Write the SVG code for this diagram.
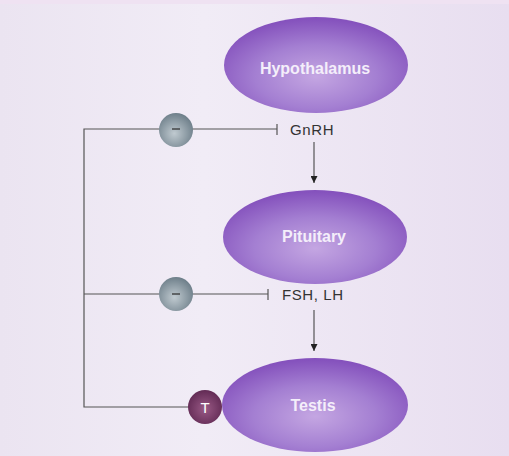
<svg xmlns="http://www.w3.org/2000/svg" width="509" height="456" viewBox="0 0 509 456">
<defs>
<linearGradient id="bg" x1="0" y1="0" x2="1" y2="0">
<stop offset="0" stop-color="#ebe4f1"/>
<stop offset="0.4" stop-color="#f1ecf6"/>
<stop offset="1" stop-color="#e8def0"/>
</linearGradient>
<radialGradient id="ell" cx="0.5" cy="0.62" r="0.6">
<stop offset="0" stop-color="#c4a6e2"/>
<stop offset="0.55" stop-color="#a47fd2"/>
<stop offset="1" stop-color="#8552bd"/>
</radialGradient>
<radialGradient id="gray" cx="0.45" cy="0.6" r="0.6">
<stop offset="0" stop-color="#c0cad0"/>
<stop offset="1" stop-color="#6e7f8a"/>
</radialGradient>
<radialGradient id="tc" cx="0.5" cy="0.55" r="0.6">
<stop offset="0" stop-color="#9a5a86"/>
<stop offset="1" stop-color="#5d2650"/>
</radialGradient>
<marker id="arr" viewBox="0 0 10 10" refX="10" refY="5" markerWidth="7" markerHeight="7" orient="auto" markerUnits="userSpaceOnUse">
<path d="M0,0 L10,5 L0,10 z" fill="#222"/>
</marker>
</defs>
<style>
.ln{stroke:#555;stroke-width:1.2;fill:none}
.lbl{font-family:"Liberation Sans",Arial,sans-serif;font-size:16px;fill:#f4eefa;font-weight:bold;text-anchor:middle}
.hl{font-family:"Liberation Sans",Arial,sans-serif;font-size:15px;fill:#333;letter-spacing:0.6px}
.ell{fill:url(#ell)}
</style>
<rect width="509" height="456" fill="url(#bg)"/>
<rect width="509" height="4" fill="#efe2f2"/>
<g id="connectors">
<path class="ln" d="M277,129 H84 V407 H190"/>
<path class="ln" d="M84,294 H268"/>
<line class="ln" x1="277" y1="124" x2="277" y2="135"/>
<line class="ln" x1="268" y1="289" x2="268" y2="300"/>
<line class="ln" x1="314" y1="142" x2="314" y2="183" marker-end="url(#arr)"/>
<line class="ln" x1="314" y1="310" x2="314" y2="351" marker-end="url(#arr)"/>
</g>
<g id="hypothalamus">
<ellipse class="ell" cx="316" cy="65" rx="92" ry="48"/>
<text class="lbl" x="315" y="74">Hypothalamus</text>
</g>
<g id="pituitary">
<ellipse class="ell" cx="315" cy="237" rx="92" ry="47"/>
<text class="lbl" x="314" y="242">Pituitary</text>
</g>
<g id="testis">
<ellipse class="ell" cx="315" cy="405" rx="93" ry="47"/>
<text class="lbl" x="313" y="411">Testis</text>
</g>
<g id="gnrh">
<text class="hl" x="290" y="135">GnRH</text>
</g>
<g id="fshlh">
<text class="hl" x="282" y="300">FSH, LH</text>
</g>
<g id="inhibit1">
<circle cx="176" cy="130" r="17" fill="url(#gray)"/>
<line x1="172" y1="129" x2="180" y2="129" stroke="#333" stroke-width="1.3"/>
</g>
<g id="inhibit2">
<circle cx="176" cy="294" r="17" fill="url(#gray)"/>
<line x1="172" y1="294" x2="180" y2="294" stroke="#333" stroke-width="1.3"/>
</g>
<g id="t">
<circle cx="205" cy="407" r="17" fill="url(#tc)"/>
<text x="205" y="413" font-family="Liberation Sans,Arial,sans-serif" font-size="15" fill="#fff" text-anchor="middle">T</text>
</g>
</svg>
